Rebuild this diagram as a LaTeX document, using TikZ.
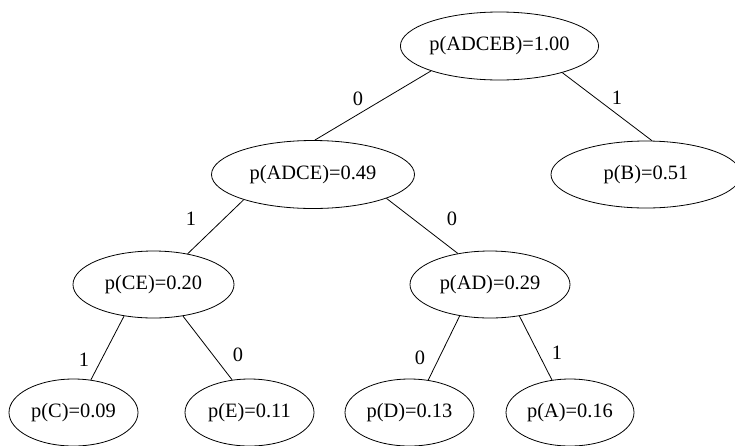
\documentclass[tikz,border=0pt]{standalone}
\usepackage{fontspec}
\setmainfont{Liberation Serif}
\usetikzlibrary{shapes.geometric}
\begin{document}
\begin{tikzpicture}[x=1pt,y=-1pt,
  prob/.style={draw, ellipse, inner sep=0pt, line width=0.8pt,
    font=\fontsize{20.4}{24}\selectfont},
  bit/.style={font=\fontsize{20.4}{24}\selectfont, inner sep=0pt},
  edge/.style={line width=0.8pt}]
\useasboundingbox (0,0) rectangle (735,445);

% tree nodes
\node[prob, minimum width=195pt, minimum height=68pt] (root) at (499.5,46) {p(ADCEB)=1.00};
\node[prob, minimum width=203pt, minimum height=68pt] (adce) at (313,174.5) {p(ADCE)=0.49};
\node[prob, minimum width=190pt, minimum height=67pt] (b) at (646,174.5) {p(B)=0.51};
\node[prob, minimum width=161pt, minimum height=67pt] (ce) at (153.5,284.5) {p(CE)=0.20};
\node[prob, minimum width=160pt, minimum height=67pt] (ad) at (490,284.5) {p(AD)=0.29};
\node[prob, minimum width=129pt, minimum height=67pt] (c) at (73.5,412.5) {p(C)=0.09};
\node[prob, minimum width=129pt, minimum height=67pt] (e) at (249.5,412.5) {p(E)=0.11};
\node[prob, minimum width=129pt, minimum height=67pt] (d) at (409.5,412.5) {p(D)=0.13};
\node[prob, minimum width=128pt, minimum height=67pt] (a) at (570,412.5) {p(A)=0.16};

% branches
\draw[edge] (root.200) -- (adce.87);
\draw[edge] (root.337) -- (b.80);
\draw[edge] (adce.200.6) -- (ce.42);
\draw[edge] (adce.342.6) -- (ad.136);
\draw[edge] (ce.227.6) -- (c.62);
\draw[edge] (ce.313.3) -- (e.118);
\draw[edge] (ad.226.7) -- (d.60);
\draw[edge] (ad.313.3) -- (a.119);

% branch bits
\node[bit] (l1) at (358,99) {0};
\node[bit] (l2) at (617,98) {1};
\node[bit] (l3) at (191,219) {1};
\node[bit] (l4) at (452,219) {0};
\node[bit] (l5) at (84,360) {1};
\node[bit] (l6) at (238,355) {0};
\node[bit] (l7) at (420,358) {0};
\node[bit] (l8) at (557,353) {1};
\end{tikzpicture}
\end{document}
